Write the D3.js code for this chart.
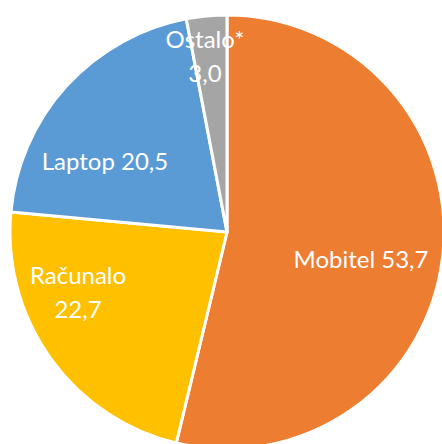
<!DOCTYPE html>
<html><head><meta charset="utf-8">
<script src="https://cdn.jsdelivr.net/npm/d3@7"></script>
<style>html,body{margin:0;padding:0;background:#fff;overflow:hidden}</style>
</head><body>
<svg id="c" width="442" height="444"></svg>
<script>
const categories = ["Mobitel", "Računalo", "Laptop", "Ostalo*"];
const values = [53.7, 22.7, 20.5, 3.0];
const valueLabels = ["53,7", "22,7", "20,5", "3,0"];
const colors = ["#ED7D31", "#FFC000", "#5B9BD5", "#A5A5A5"];

const svg = d3.select("#c");
const cx = 227, cy = 232, r = 217;
const g = svg.append("g").attr("transform", `translate(${cx},${cy})`);
const pie = d3.pie().sort(null).value(d => d.v);
const data = categories.map((c, i) => ({c, v: values[i], lab: valueLabels[i], col: colors[i]}));
const arcs = pie(data);
const arc = d3.arc().innerRadius(0).outerRadius(r);
g.selectAll("path").data(arcs).join("path")
  .attr("d", arc).attr("fill", d => d.data.col)
  .attr("stroke", "#fff").attr("stroke-width", 3).attr("stroke-linejoin", "round");

const labelPos = [
  {x: 361, y: 260, lines: [categories[0] + " " + valueLabels[0]]},
  {x: 78, y: 276, lines: [categories[1], valueLabels[1]]},
  {x: 105, y: 162, lines: [categories[2] + " " + valueLabels[2]]},
  {x: 205, y: 40, lines: [categories[3], valueLabels[3]]}
];
labelPos.forEach(p => {
  const t = svg.append("text").attr("text-anchor", "middle")
    .attr("font-family", "Lato, 'Open Sans', sans-serif").attr("font-size", 24)
    .attr("fill", "#fff");
  p.lines.forEach((l, i) => {
    t.append("tspan").attr("x", p.x).attr("y", p.y + i * 34).attr("dy", "0.35em").text(l);
  });
});
</script>
</body></html>
